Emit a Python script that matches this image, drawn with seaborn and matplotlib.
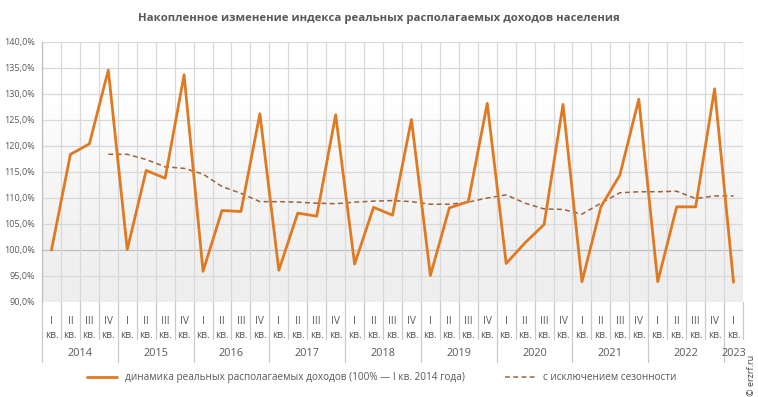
import numpy as np
import pandas as pd
import matplotlib
matplotlib.use("Agg")
import matplotlib.pyplot as plt
import matplotlib.transforms as mtransforms
import seaborn as sns

# data (% of I кв. 2014)
years = ["2014", "2015", "2016", "2017", "2018", "2019", "2020", "2021", "2022", "2023"]
quarters = ["I", "II", "III", "IV"] * 9 + ["I"]
income = [100.0, 118.4, 120.4, 134.6,
          100.1, 115.3, 113.8, 133.7,
          95.9, 107.6, 107.4, 126.2,
          96.1, 107.1, 106.5, 126.0,
          97.3, 108.2, 106.7, 125.1,
          95.1, 108.1, 109.3, 128.2,
          97.4, 101.4, 104.9, 128.0,
          93.9, 108.3, 114.4, 129.0,
          93.9, 108.3, 108.3, 131.0,
          93.8]
seasonal = [np.nan, np.nan, np.nan, 118.4,
            118.4, 117.4, 116.0, 115.7,
            114.6, 112.2, 110.9, 109.3,
            109.3, 109.2, 109.0, 108.9,
            109.2, 109.4, 109.5, 109.3,
            108.8, 108.8, 109.2, 110.0,
            110.6, 109.0, 107.9, 107.8,
            106.9, 109.0, 111.0, 111.2,
            111.2, 111.3, 109.9, 110.4,
            110.4]
yticks = [90, 95, 100, 105, 110, 115, 120, 125, 130, 135, 140]

lbl_main = "динамика реальных располагаемых доходов (100% — I кв. 2014 года)"
lbl_seas = "с исключением сезонности"

df = pd.DataFrame({"pos": np.arange(len(income)), "income": income, "seasonal": seasonal})

sns.set_theme(style="white")
plt.rcParams["font.family"] = ["Open Sans", "DejaVu Sans"]
txt_col = "#595959"
grid_col = "#d9d9d9"

fig = plt.figure(figsize=(7.58, 3.97), dpi=100)
ax = fig.add_axes([42 / 758, 1 - 302 / 397, 701 / 758, 260 / 397])

n = len(income)
ax.set_xlim(-0.5, n - 0.5)
ax.set_ylim(90, 140)

# background gradient of the plot area
grad = np.linspace(0, 1, 256).reshape(-1, 1)
cmap = matplotlib.colors.LinearSegmentedColormap.from_list(
    "bg", [(0, "#eeeeee"), (0.25, "#f1f1f1"), (0.55, "#f8f8f8"), (0.8, "#ffffff"), (1, "#ffffff")])
ax.imshow(grad, cmap=cmap, aspect="auto", extent=(-0.5, n - 0.5, 90, 140),
          origin="lower", zorder=0)

# grid
for y in yticks:
    ax.axhline(y, color="#bfbfbf" if y == 100 else grid_col, lw=0.9, zorder=1)
for b in np.arange(-0.5, n, 1.0):
    ax.axvline(b, color=grid_col, lw=0.9, zorder=1)

sns.lineplot(data=df, x="pos", y="income", ax=ax, color="#e07a22", lw=2.0,
             label=lbl_main, zorder=4)
sns.lineplot(data=df, x="pos", y="seasonal", ax=ax, color="#a0603a", lw=1.1,
             linestyle=(0, (3.2, 2.2)), label=lbl_seas, zorder=3)

for s in ["top", "right", "bottom"]:
    ax.spines[s].set_visible(False)
ax.spines["left"].set_color("#bfbfbf")
ax.spines["left"].set_linewidth(0.9)

ax.set_yticks(yticks)
ax.set_yticklabels([f"{v:.1f}".replace(".", ",") + "%" for v in yticks],
                   fontsize=6.5, color=txt_col)
ax.tick_params(axis="y", length=3, color="#bfbfbf", pad=2)
ax.tick_params(axis="x", length=0, pad=10)
ax.set_xticks(df["pos"])
ax.set_xticklabels([f"{q}\nкв." for q in quarters], fontsize=7.3, color=txt_col,
                   linespacing=1.45)
ax.set_xlabel("")
ax.set_ylabel("")

# separators and year labels under the axis
trans = mtransforms.blended_transform_factory(ax.transData, ax.transAxes)
for i in range(n + 1):
    b = i - 0.5
    is_year = (i % 4 == 0) and i < n
    ax.plot([b, b], [0, -0.23 if (is_year or i == 0) else -0.142], transform=trans,
            color="#c8c8c8", lw=0.9, clip_on=False)
for k, yr in enumerate(years):
    start = k * 4
    end = min(start + 4, n)
    ax.text((start + end - 1) / 2, -0.197, yr, transform=trans, ha="center",
            va="center", fontsize=7.8, color=txt_col)

ax.legend(loc="center", bbox_to_anchor=(0.503, 0.048), bbox_transform=fig.transFigure,
          ncol=2, frameon=False, fontsize=7.2, handlelength=3.0, columnspacing=4,
          labelcolor=txt_col)

fig.text(0.5, 1 - 18 / 397, "Накопленное изменение индекса реальных располагаемых доходов населения",
         ha="center", va="center", fontsize=8.2, fontweight="bold", color="#595959")
fig.text(751 / 758, 1 - 375 / 397, "© erzrf.ru", rotation=90, ha="center", va="center",
         fontsize=6.5, color="#404040")

fig.savefig("out.png", dpi=100)
